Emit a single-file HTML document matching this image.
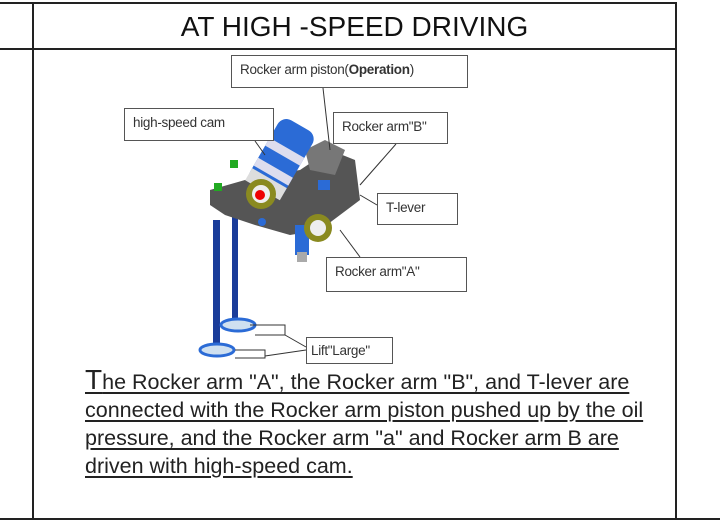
<!DOCTYPE html>
<html><head><style>
html,body{margin:0;padding:0;background:#fff;}
body{width:720px;height:522px;position:relative;overflow:hidden;font-family:"Liberation Sans",Arial,sans-serif;}
.lbl{position:absolute;border:1px solid #555;background:#fff;font-size:13.5px;color:#333;box-sizing:border-box;padding:6px 8px;white-space:nowrap;letter-spacing:-0.3px;}
.txt{position:absolute;left:85px;top:366px;font-size:21.5px;line-height:28px;color:#222;letter-spacing:0px;white-space:nowrap;}
.txt span{text-decoration:underline;text-decoration-thickness:2px;text-underline-offset:3px;}
</style></head><body>
<svg width="720" height="522" style="position:absolute;left:0;top:0">
<g stroke="#222" stroke-width="2" fill="none">
<line x1="0" y1="3" x2="677" y2="3"/>
<line x1="0" y1="49" x2="677" y2="49"/>
<line x1="0" y1="519" x2="720" y2="519"/>
<line x1="33" y1="3" x2="33" y2="519"/>
<line x1="676" y1="3" x2="676" y2="519"/>
</g>
<rect x="213" y="220" width="7" height="125" fill="#1a3c9a"/>
<rect x="232" y="215" width="6" height="105" fill="#1a3c9a"/>
<ellipse cx="238" cy="325" rx="17" ry="6" fill="#cfe0f0" stroke="#2b6bd6" stroke-width="3"/>
<ellipse cx="217" cy="350" rx="17" ry="6" fill="#cfe0f0" stroke="#2b6bd6" stroke-width="3"/>
<path d="M210 190 L245 180 L300 170 L330 150 L355 160 L360 200 L340 215 L320 230 L290 235 L255 225 L225 215 L210 205Z" fill="#555"/>
<path d="M305 150 L325 140 L345 150 L335 175 L310 170Z" fill="#777"/>
<rect x="295" y="225" width="14" height="30" fill="#2b6bd6"/>
<rect x="297" y="252" width="10" height="10" fill="#aaa"/>
<g transform="rotate(-60 280 160)">
<rect x="245" y="140" width="75" height="40" rx="10" fill="#2b6bd6"/>
<rect x="262" y="140" width="9" height="40" fill="#dde"/>
<rect x="285" y="140" width="9" height="40" fill="#dde"/>
<rect x="245" y="140" width="14" height="40" fill="#ddd"/>
</g>
<circle cx="261" cy="194" r="15" fill="#8a8a20"/>
<circle cx="261" cy="194" r="9" fill="#eee"/>
<circle cx="260" cy="195" r="5" fill="#e00"/>
<circle cx="318" cy="228" r="14" fill="#8a8a20"/>
<circle cx="318" cy="228" r="8" fill="#eee"/>
<rect x="230" y="160" width="8" height="8" fill="#2a2"/>
<rect x="214" y="183" width="8" height="8" fill="#2a2"/>
<circle cx="262" cy="222" r="4" fill="#2b6bd6"/>
<rect x="318" y="180" width="12" height="10" fill="#2b6bd6"/>
<g stroke="#333" stroke-width="1" fill="none">
<line x1="323" y1="88" x2="330" y2="150"/>
<line x1="396" y1="144" x2="360" y2="185"/>
<line x1="377" y1="205" x2="360" y2="195"/>
<line x1="360" y1="257" x2="340" y2="230"/>
<line x1="255" y1="141" x2="265" y2="155"/>
<polyline points="250,325 285,325 285,335 255,335"/>
<polyline points="235,350 265,350 265,358 235,358"/>
<line x1="306" y1="347" x2="285" y2="335"/>
<line x1="306" y1="350" x2="265" y2="356"/>
</g>
</svg>
<div style="position:absolute;left:33px;top:4px;width:643px;height:45px;text-align:center;font-size:28px;line-height:45px;color:#111;letter-spacing:0px;">AT HIGH -SPEED DRIVING</div>
<div class="lbl" style="left:231px;top:55px;width:237px;height:33px;">Rocker arm piston(<b>Operation</b>)</div>
<div class="lbl" style="left:124px;top:108px;width:150px;height:33px;">high-speed cam</div>
<div class="lbl" style="left:333px;top:112px;width:115px;height:32px;">Rocker arm"B"</div>
<div class="lbl" style="left:377px;top:193px;width:81px;height:32px;">T-lever</div>
<div class="lbl" style="left:326px;top:257px;width:141px;height:35px;">Rocker arm"A"</div>
<div class="lbl" style="left:306px;top:337px;width:87px;height:27px;padding:5px 4px;">Lift"Large"</div>
<div class="txt"><span><span style="font-size:28px">T</span>he Rocker arm "A", the Rocker arm "B", and T-lever are</span><br><span>connected with the Rocker arm piston pushed up by the oil</span><br><span>pressure, and the Rocker arm "a" and Rocker arm B are</span><br><span>driven with high-speed cam.</span></div>
</body></html>
